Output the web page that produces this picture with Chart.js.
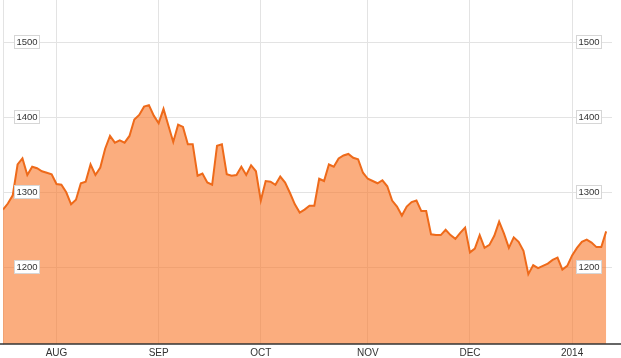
<!DOCTYPE html>
<html>

<head>
    <meta charset="UTF-8">
    <title>Price Chart</title>
    <script src="https://cdn.jsdelivr.net/npm/chart.js"></script>
    <style>
        html, body {
            margin: 0;
            padding: 0;
            background: #fff;
        }

        #wrap {
            position: relative;
            width: 621px;
            height: 358px;
        }
    </style>
</head>

<body>
    <div id="wrap">
        <canvas id="priceChart"></canvas>
    </div>

    <script>
        // daily closing values, mid July 2013 to mid January 2014
        const prices = [
            1277, 1285, 1296, 1337, 1345, 1323, 1334, 1332, 1328, 1326,
            1324, 1311, 1310, 1300, 1284, 1290, 1312, 1314, 1337, 1323,
            1333, 1358, 1375, 1366, 1369, 1366, 1375, 1397, 1403, 1414,
            1416, 1402, 1392, 1411, 1389, 1367, 1390, 1387, 1364, 1364,
            1322, 1325, 1313, 1310, 1362, 1364, 1324, 1322, 1323, 1334,
            1323, 1336, 1328, 1289, 1315, 1314, 1310, 1321, 1313, 1299,
            1284, 1273, 1277, 1282, 1282, 1318, 1315, 1337, 1334, 1345,
            1349, 1351, 1346, 1344, 1326, 1318, 1315, 1312, 1316, 1308,
            1289, 1281, 1269, 1281, 1287, 1289, 1275, 1275, 1244, 1243,
            1243, 1250, 1243, 1238, 1246, 1253, 1220, 1225, 1243, 1226,
            1230, 1242, 1261, 1245, 1226, 1240, 1234, 1222, 1191, 1203,
            1199, 1202, 1205, 1210, 1213, 1197, 1202, 1216, 1226, 1234,
            1237, 1233, 1227, 1227, 1248
        ];

        // first trading day of each month, as an index into prices
        const monthLabels = ['AUG', 'SEP', 'OCT', 'NOV', 'DEC', '2014'];
        const monthStarts = [11, 32, 53, 75, 96, 117];

        const yTicks = [1200, 1300, 1400, 1500];

        const points = prices.map((v, i) => ({ x: i, y: v }));

        const gridColor = '#e3e3e3';

        // boxed value labels on both sides + full width baseline
        const boxLabels = {
            id: 'boxLabels',
            afterDatasetsDraw(chart) {
                const ctx = chart.ctx;
                const area = chart.chartArea;
                const y = chart.scales.y;

                ctx.save();
                ctx.font = '9.5px Arial, "Liberation Sans", sans-serif';
                ctx.textBaseline = 'middle';
                ctx.textAlign = 'center';

                yTicks.forEach(function (v) {
                    const py = Math.round(y.getPixelForValue(v));
                    const txt = String(v);
                    const w = Math.ceil(ctx.measureText(txt).width) + 4;
                    const h = 14;
                    const spots = [area.left + 11, area.right - 10 - w];
                    spots.forEach(function (bx) {
                        ctx.fillStyle = '#fff';
                        ctx.fillRect(bx, py - h / 2, w, h);
                        ctx.strokeStyle = '#d6d6d6';
                        ctx.lineWidth = 1;
                        ctx.strokeRect(bx + 0.5, py - h / 2 + 0.5, w - 1, h - 1);
                        ctx.fillStyle = '#333';
                        ctx.fillText(txt, bx + w / 2, py + 0.5);
                    });
                });

                // dark baseline across the whole width
                ctx.strokeStyle = '#333';
                ctx.lineWidth = 1.5;
                ctx.beginPath();
                ctx.moveTo(0, area.bottom);
                ctx.lineTo(chart.width, area.bottom);
                ctx.stroke();
                ctx.restore();
            }
        };

        const ctx = document.getElementById('priceChart').getContext('2d');
        const priceChart = new Chart(ctx, {
            type: 'line',
            data: {
                datasets: [{
                    data: points,
                    borderColor: '#ee6a1a',
                    borderWidth: 2,
                    backgroundColor: 'rgba(248, 118, 40, 0.6)',
                    fill: 'start',
                    pointRadius: 0,
                    tension: 0
                }]
            },
            options: {
                responsive: true,
                maintainAspectRatio: false,
                animation: false,
                layout: {
                    padding: { left: 3, right: 9, top: 0, bottom: -4 }
                },
                plugins: {
                    legend: { display: false },
                    tooltip: { enabled: false }
                },
                scales: {
                    x: {
                        type: 'linear',
                        min: 0,
                        max: 125.2,
                        afterBuildTicks: function (scale) {
                            scale.ticks = monthStarts.map(v => ({ value: v }));
                        },
                        ticks: {
                            autoSkip: false,
                            maxRotation: 0,
                            padding: 3,
                            color: '#333',
                            font: { family: 'Arial, "Liberation Sans", sans-serif', size: 10 },
                            callback: function (value) {
                                const k = monthStarts.indexOf(value);
                                return k >= 0 ? monthLabels[k] : null;
                            }
                        },
                        grid: {
                            color: gridColor,
                            drawTicks: false
                        },
                        border: { display: false }
                    },
                    y: {
                        min: 1098,
                        max: 1556,
                        afterBuildTicks: function (scale) {
                            scale.ticks = yTicks.map(v => ({ value: v }));
                        },
                        ticks: { display: false },
                        grid: {
                            color: gridColor,
                            drawTicks: false
                        },
                        border: { display: true, color: gridColor }
                    }
                }
            },
            plugins: [boxLabels]
        });
    </script>
</body>

</html>
